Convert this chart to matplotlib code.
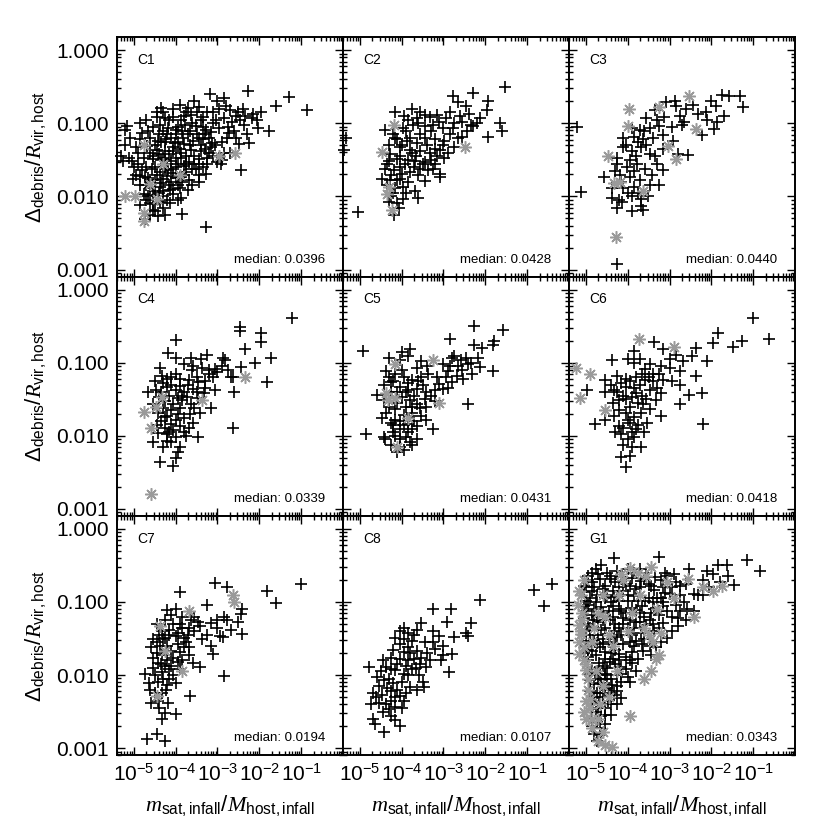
import numpy as np
import matplotlib
matplotlib.use("Agg")
import matplotlib.pyplot as plt
from matplotlib.ticker import FixedLocator, LogLocator, NullFormatter, FuncFormatter

plt.rcParams["font.family"] = "Liberation Sans"
plt.rcParams["mathtext.fontset"] = "custom"
plt.rcParams["mathtext.rm"] = "Liberation Sans"
plt.rcParams["mathtext.it"] = "Liberation Serif:italic"
plt.rcParams["mathtext.sf"] = "Liberation Sans"

# values, as (log10 m_sat/M_host, log10 Delta/R_vir)
c1_plus = [(-3.18,-0.60),(-2.27,-0.56),(-1.30,-0.64),(-1.61,-0.76),(-0.86,-0.82),(-4.35,-0.79),(-3.71,-0.79),(-3.43,-0.78),(-2.96,-0.80),(-2.80,-0.76),(-2.69,-0.82),(-2.51,-0.84),(-2.14,-0.87),
           (-4.45,-0.92),(-4.25,-0.93),(-4.06,-0.91),(-3.86,-0.96),(-3.63,-0.89),(-3.35,-0.91),(-3.04,-0.96),(-2.84,-0.93),(-2.65,-0.98),(-2.45,-0.96),(-2.18,-0.93),
           (-5.16,-1.04),(-5.20,-1.09),(-4.80,-1.13),(-4.37,-1.02),(-4.18,-1.07),(-3.98,-1.09),(-3.78,-1.02),(-3.51,-1.04),(-3.27,-1.09),(-2.96,-1.07),(-2.73,-1.13),(-2.37,-1.02),(-2.02,-1.07),(-1.76,-1.11),
           (-4.84,-1.22),(-4.61,-1.20),(-4.41,-1.24),(-4.22,-1.22),(-4.02,-1.27),(-3.82,-1.20),(-3.59,-1.24),(-3.35,-1.22),(-3.12,-1.27),(-2.76,-1.20),(-2.25,-1.27),
           (-4.94,-1.33),(-4.69,-1.31),(-4.45,-1.36),(-4.25,-1.38),(-4.06,-1.33),(-3.86,-1.40),(-3.63,-1.36),(-3.39,-1.38),(-3.16,-1.33),(-2.49,-1.28),
           (-5.25,-1.51),(-5.04,-1.51),(-5.12,-1.47),(-4.76,-1.47),(-4.53,-1.49),(-4.29,-1.47),(-4.10,-1.51),(-3.86,-1.47),(-3.67,-1.53),(-3.43,-1.49),(-3.24,-1.56),(-3.00,-1.53),(-2.92,-1.56),
           (-5.00,-1.60),(-4.80,-1.64),(-4.57,-1.62),(-4.37,-1.67),(-4.18,-1.64),(-3.98,-1.60),(-3.75,-1.67),(-3.51,-1.62),(-3.27,-1.69),(-2.44,-1.64),
           (-5.02,-1.76),(-4.73,-1.73),(-4.49,-1.78),(-4.29,-1.76),(-4.10,-1.80),(-3.90,-1.73),(-3.67,-1.78),(-3.43,-1.71),
           (-4.84,-1.84),(-4.61,-1.89),(-4.37,-1.87),(-4.14,-1.91),(-3.90,-1.89),(-3.71,-1.91),
           (-4.76,-1.96),(-4.53,-1.98),(-4.29,-2.00),(-4.06,-1.96),(-3.86,-2.02),
           (-4.84,-2.11),(-4.61,-2.09),(-4.37,-2.07),(-4.14,-2.09),(-4.53,-2.18),(-4.29,-2.16),(-4.49,-2.20),(-4.41,-2.27),(-3.84,-2.24),(-4.73,-2.31),(-3.27,-2.42),
           (-4.00,-1.15),(-3.70,-1.15),(-3.40,-1.30),(-4.20,-1.55),(-3.90,-1.35),(-3.55,-1.45),(-4.30,-1.10),(-3.20,-1.40),(-3.60,-1.00),(-4.50,-1.60),(-4.65,-1.75),(-4.00,-1.75),(-3.80,-1.58),(-4.15,-1.85),(-3.30,-1.15),
           (-4.70,-0.95),(-4.55,-1.05),(-4.40,-1.15),(-4.25,-1.25),(-4.10,-1.20),(-3.95,-1.25),(-3.85,-1.10),(-3.65,-1.30),(-3.50,-1.15),(-3.35,-1.05),(-3.20,-1.20),(-3.10,-1.00),(-2.90,-1.25),(-2.60,-1.10),(-2.55,-0.90),
           (-4.90,-1.40),(-4.60,-1.40),(-4.35,-1.50),(-4.15,-1.42),(-4.00,-1.48),(-3.75,-1.45),(-3.55,-1.55),(-3.35,-1.60),(-3.10,-1.45),(-2.85,-1.40),
           (-4.95,-1.70),(-4.70,-1.85),(-4.45,-1.70),(-4.25,-1.62),(-4.05,-1.68),(-3.85,-1.80),(-3.60,-1.85),(-3.45,-1.80),
           (-4.65,-2.00),(-4.40,-1.95),(-4.20,-2.05),(-3.95,-2.05),(-4.55,-2.10),(-4.25,-2.25),(-4.60,-2.25),
           (-4.45,-0.85),(-4.15,-0.95),(-3.80,-0.90),(-3.50,-0.85),(-3.25,-0.85),(-3.00,-0.70),(-2.85,-0.65),(-3.90,-0.75),(-3.55,-0.70),(-2.40,-0.80),(-2.30,-1.15),(-2.05,-0.95),(-1.95,-0.85),
           (-5.30,-1.45),(-5.20,-1.30),(-5.10,-1.20),
           (-4.85,-1.00),(-4.65,-1.10),(-4.50,-1.30),(-4.35,-1.25),(-4.20,-1.15),(-4.05,-1.38),(-3.95,-1.05),(-3.80,-1.28),(-3.65,-1.10),(-3.45,-1.20),(-3.30,-1.35),(-3.15,-1.12),(-3.05,-1.30),
           (-4.90,-1.55),(-4.70,-1.60),(-4.55,-1.45),(-4.40,-1.42),(-4.25,-1.50),(-4.10,-1.62),(-3.95,-1.55),(-3.75,-1.55),(-3.60,-1.62),(-3.45,-1.55),(-3.25,-1.48),
           (-4.85,-1.72),(-4.60,-1.78),(-4.35,-1.82),(-4.20,-1.72),(-3.95,-1.85),(-3.80,-1.70),(-4.50,-1.92),(-4.30,-1.92),(-4.05,-1.90),(-4.70,-2.05),
           (-4.30,-0.85),(-4.05,-0.80),(-3.75,-0.85),(-3.40,-0.95),(-3.10,-0.85),(-2.75,-1.05),(-2.55,-1.20),(-2.35,-0.90),(-2.90,-1.50),(-2.70,-1.40)]
c1_star = [(-4.76,-1.30),(-2.96,-1.44),(-2.57,-1.40),(-4.61,-1.83),(-5.20,-2.00),(-4.96,-1.99),(-4.45,-2.04),(-4.76,-2.22),(-4.75,-2.33),(-4.30,-1.55),(-3.90,-1.70)]

c2_plus = [(-1.53,-0.50),(-2.29,-0.59),(-2.78,-0.63),(-2.66,-0.71),(-2.47,-0.76),(-1.93,-0.70),(-1.96,-0.82),
           (-4.15,-0.84),(-3.76,-0.81),(-3.56,-0.84),(-3.84,-0.96),(-3.64,-0.93),(-3.33,-0.91),(-3.16,-0.89),(-2.94,-0.93),(-2.74,-1.00),(-2.55,-0.98),(-2.39,-0.87),(-2.35,-1.02),(-2.13,-0.93),
           (-4.40,-1.09),(-3.96,-1.07),(-3.72,-1.02),(-3.45,-1.04),(-3.25,-1.02),(-3.02,-1.07),(-2.78,-1.07),(-2.55,-1.18),(-2.29,-1.04),(-1.66,-1.00),(-1.60,-1.11),(-1.93,-1.18),
           (-5.33,-1.20),(-5.37,-1.36),(-5.05,-2.21),
           (-4.11,-1.22),(-3.88,-1.24),(-3.64,-1.27),(-3.45,-1.20),(-3.21,-1.22),(-2.98,-1.24),(-2.74,-1.33),
           (-4.27,-1.42),(-4.04,-1.33),(-3.80,-1.36),(-3.56,-1.38),(-3.33,-1.40),(-3.09,-1.36),
           (-4.31,-1.51),(-4.11,-1.49),(-3.92,-1.56),(-3.68,-1.51),(-3.45,-1.53),(-3.21,-1.56),(-2.98,-1.47),
           (-4.39,-1.62),(-4.19,-1.64),(-4.00,-1.69),(-3.80,-1.67),(-3.60,-1.71),(-3.37,-1.64),(-3.09,-1.69),(-3.09,-1.73),
           (-4.47,-1.76),(-4.27,-1.78),(-4.04,-1.76),(-3.84,-1.80),(-3.45,-1.79),
           (-4.15,-1.89),(-3.96,-1.87),(-3.68,-1.93),
           (-4.31,-2.07),(-4.11,-2.09),(-3.96,-2.04),(-4.07,-2.16),(-3.60,-2.02),(-4.19,-2.26),
           (-4.30,-1.30),(-4.20,-1.15),(-4.05,-1.45),(-3.90,-1.10),(-3.75,-1.40),(-3.55,-1.15),(-3.40,-1.30),(-3.30,-1.10),(-3.15,-1.45),(-3.00,-1.30),(-2.85,-1.15),(-2.65,-1.20),(-2.45,-1.10),
           (-4.35,-1.85),(-4.20,-1.95),(-4.05,-1.60),(-3.90,-1.95),(-3.70,-1.60),(-3.50,-1.55),(-3.25,-1.62),(-4.25,-2.00),(-3.95,-0.90),(-3.45,-0.88),(-2.60,-0.90),(-2.20,-1.00),
           (-4.35,-1.55),(-4.25,-1.70),(-4.10,-1.78),(-4.00,-1.30),(-3.85,-1.50),(-3.65,-1.45),(-3.55,-1.62),(-3.30,-1.50),(-3.20,-1.35),(-2.90,-1.40),(-4.15,-1.20),(-3.80,-1.20),(-3.60,-1.00),(-3.10,-0.98),(-2.85,-0.85)]
c2_star = [(-4.19,-1.02),(-4.47,-1.39),(-2.48,-1.32),(-4.31,-1.87),(-4.35,-1.96),(-4.23,-2.18)]

c3_plus = [(-1.75,-0.61),(-1.59,-0.63),(-1.31,-0.62),(-1.24,-0.78),(-2.00,-0.69),(-1.90,-0.76),(-2.88,-0.69),(-2.84,-0.76),(-3.08,-0.71),(-3.35,-0.82),
           (-3.55,-0.93),(-3.12,-0.91),(-2.61,-0.80),(-2.33,-0.87),(-2.14,-0.84),(-1.86,-0.98),(-1.94,-1.08),(-2.23,-1.16),(-2.69,-1.02),(-2.65,-0.98),
           (-5.21,-1.05),(-3.90,-1.07),(-3.71,-1.09),(-3.47,-1.07),(-3.24,-1.04),
           (-4.10,-1.20),(-3.86,-1.18),(-3.63,-1.22),(-3.39,-1.20),(-3.16,-1.16),(-2.92,-1.24),
           (-4.25,-1.47),(-4.10,-1.33),(-3.90,-1.38),(-3.67,-1.33),(-3.47,-1.42),(-2.80,-1.42),(-2.57,-1.43),
           (-4.25,-1.56),(-4.02,-1.60),(-3.78,-1.56),(-3.59,-1.62),(-3.31,-1.56),(-3.16,-1.64),
           (-4.57,-1.73),(-4.18,-1.71),(-3.94,-1.73),(-3.71,-1.78),(-3.43,-1.71),(-3.24,-1.84),
           (-4.37,-1.89),(-4.10,-1.89),(-3.86,-1.87),(-3.47,-1.84),
           (-5.12,-1.94),(-4.37,-2.02),(-4.14,-2.07),(-3.90,-2.00),(-3.67,-2.04),(-3.51,-2.00),
           (-4.25,-2.16),(-3.90,-2.20),(-3.67,-2.13),(-3.63,-2.18),(-4.25,-2.93),
           (-4.05,-1.30),(-3.95,-1.50),(-3.80,-1.45),(-3.75,-1.25),(-3.55,-1.30),(-3.85,-1.65),(-4.15,-1.80),(-4.00,-1.95),(-3.75,-1.95),(-4.20,-2.05),
           (-3.35,-1.45),(-3.15,-1.35),(-3.30,-0.95),(-2.95,-1.05),(-2.75,-0.90),(-2.45,-0.75),(-2.10,-0.95),(-1.70,-0.90),(-3.60,-1.10),(-4.30,-1.65)]
c3_star = [(-2.53,-0.62),(-3.96,-0.81),(-3.24,-0.78),(-2.37,-1.08),(-3.98,-1.04),(-4.47,-1.45),(-3.04,-1.31),(-2.84,-1.49),
           (-4.33,-1.82),(-4.18,-1.80),(-3.63,-1.93),(-4.28,-2.56)]

c4_plus = [(-1.21,-0.39),(-2.47,-0.51),(-2.45,-0.57),(-1.95,-0.60),(-1.95,-0.72),(-3.98,-0.69),(-2.35,-0.82),(-4.19,-0.87),
           (-3.98,-0.93),(-3.63,-0.93),(-3.24,-0.90),(-2.86,-0.94),(-2.82,-0.96),(-1.71,-0.94),(-2.11,-1.00),(-2.44,-1.06),
           (-4.37,-1.07),(-3.81,-1.02),(-3.58,-1.04),(-3.37,-1.07),(-3.05,-1.09),(-1.81,-1.27),(-2.68,-1.19),(-2.63,-1.20),
           (-4.32,-1.18),(-4.11,-1.20),(-3.89,-1.22),(-3.68,-1.24),(-3.47,-1.27),(-3.21,-1.16),(-3.00,-1.13),
           (-4.65,-1.40),(-4.47,-1.38),(-4.21,-1.33),(-4.00,-1.38),(-3.79,-1.40),(-3.58,-1.36),(-3.32,-1.42),(-3.05,-1.38),(-2.61,-1.40),
           (-4.53,-1.56),(-4.26,-1.53),(-4.05,-1.56),(-3.84,-1.51),(-3.63,-1.56),(-3.47,-1.49),(-3.16,-1.62),
           (-4.42,-1.69),(-4.21,-1.73),(-4.00,-1.78),(-3.79,-1.76),(-3.58,-1.82),(-3.42,-1.69),
           (-4.34,-1.80),(-4.11,-1.84),(-3.89,-1.87),(-3.68,-1.89),(-2.63,-1.90),
           (-4.42,-1.96),(-4.21,-1.98),(-4.00,-2.02),(-3.74,-2.00),(-3.47,-2.02),
           (-4.53,-2.09),(-4.21,-2.07),(-4.11,-2.09),(-3.89,-2.16),(-3.95,-2.22),(-4.37,-2.36),(-4.05,-2.42),
           (-4.30,-1.28),(-4.10,-1.30),(-3.90,-1.32),(-3.70,-1.30),(-3.50,-1.20),(-3.30,-1.25),(-3.10,-1.20),(-2.90,-1.05),(-4.40,-1.47),(-4.15,-1.45),
           (-3.95,-1.48),(-3.72,-1.47),(-3.55,-1.62),(-4.30,-1.62),(-4.10,-1.65),(-3.90,-1.62),(-4.25,-1.90),(-4.05,-1.92),(-3.80,-1.95),(-4.30,-2.15),
           (-4.00,-2.30),(-3.60,-1.10),(-3.40,-0.95),(-2.75,-1.10),(-4.50,-1.25),
           (-4.35,-1.40),(-4.20,-1.22),(-4.00,-1.15),(-3.85,-1.45),(-3.65,-1.70),(-3.50,-1.40),(-4.25,-1.75),(-4.15,-1.95),(-3.95,-1.70),(-4.45,-1.85),(-3.30,-1.35),(-3.20,-1.10)]
c4_star = [(-2.34,-1.19),(-4.32,-1.47),(-4.47,-1.60),(-4.76,-1.67),(-4.58,-1.89),(-3.37,-1.51),(-4.58,-2.80)]

c5_plus = [(-2.26,-0.50),(-1.58,-0.56),(-2.84,-0.67),(-2.26,-0.76),(-2.07,-0.80),(-1.79,-0.71),(-1.81,-0.76),(-4.93,-0.84),
           (-3.81,-0.82),(-3.84,-0.91),(-4.29,-0.93),(-4.05,-0.96),(-3.53,-0.98),(-3.63,-1.07),
           (-2.74,-0.91),(-2.79,-0.93),(-2.58,-0.96),(-2.47,-0.93),(-2.18,-0.93),(-2.42,-1.02),(-2.13,-1.06),(-1.81,-1.11),
           (-3.00,-1.02),(-2.89,-1.11),(-2.68,-1.18),(-2.53,-1.22),(-2.32,-1.16),(-2.95,-1.20),(-2.79,-1.27),
           (-4.37,-1.11),(-4.16,-1.16),(-3.95,-1.20),(-3.74,-1.24),(-3.53,-1.20),(-3.37,-1.16),(-3.16,-1.20),(-3.11,-1.29),
           (-4.42,-1.31),(-4.26,-1.27),(-4.05,-1.33),(-3.84,-1.38),(-3.63,-1.36),(-3.42,-1.40),(-3.21,-1.38),(-3.00,-1.36),
           (-4.58,-1.44),(-4.42,-1.51),(-4.00,-1.47),(-3.79,-1.51),(-3.63,-1.56),(-3.42,-1.60),(-3.21,-1.53),(-2.42,-1.56),
           (-4.37,-1.69),(-4.16,-1.64),(-3.95,-1.71),(-3.74,-1.69),(-3.53,-1.73),(-3.42,-1.78),
           (-4.47,-1.76),(-4.26,-1.82),(-4.05,-1.80),(-3.84,-1.84),(-3.63,-1.87),
           (-4.05,-1.91),(-3.74,-1.91),(-3.26,-1.91),(-4.84,-1.98),(-4.42,-2.02),(-4.16,-2.00),(-3.89,-2.02),(-3.63,-2.04),
           (-4.26,-2.13),(-4.05,-2.16),(-3.74,-2.13),
           (-4.20,-1.25),(-4.00,-1.10),(-3.85,-1.28),(-3.70,-1.45),(-3.50,-1.30),(-3.30,-1.45),(-4.25,-1.40),(-4.10,-1.55),(-3.90,-1.60),(-3.70,-1.80),
           (-3.55,-1.62),(-4.15,-1.78),(-3.95,-1.85),(-4.20,-1.95),(-3.80,-2.08),(-4.40,-2.05),(-4.10,-2.22),(-3.95,-2.20),(-2.65,-1.05),(-2.35,-1.00),
           (-2.90,-1.35),(-3.40,-1.05),(-4.00,-0.85),
           (-4.30,-1.20),(-4.10,-1.40),(-3.90,-1.40),(-3.75,-1.60),(-3.60,-1.25),(-3.45,-1.50),(-4.30,-1.60),(-4.20,-1.85),(-3.85,-1.95),(-4.05,-2.05),(-2.85,-1.05),(-2.55,-1.10)]
c5_star = [(-4.16,-1.02),(-3.26,-0.97),(-4.37,-1.42),(-4.32,-1.51),(-4.16,-1.49),(-3.84,-1.76),(-4.11,-2.16),(-3.10,-1.55)]

c6_plus = [(-1.00,-0.39),(-1.84,-0.59),(-0.63,-0.68),(-1.28,-0.70),(-1.49,-0.79),(-3.37,-0.72),(-2.37,-0.80),(-1.95,-0.73),
           (-3.84,-0.84),(-3.16,-0.82),(-2.84,-0.89),(-2.68,-0.98),(-2.47,-0.91),(-4.37,-0.97),(-3.84,-1.00),(-3.47,-1.02),(-3.21,-1.04),
           (-4.97,-1.38),(-2.11,-0.98),(-3.58,-1.09),(-3.26,-1.16),(-3.00,-1.07),(-2.74,-1.11),(-2.37,-1.18),
           (-4.53,-1.24),(-4.26,-1.18),(-4.05,-1.22),(-3.79,-1.20),(-3.58,-1.24),(-3.16,-1.24),
           (-4.53,-1.40),(-4.32,-1.38),(-4.05,-1.33),(-3.79,-1.42),(-3.47,-1.38),(-3.21,-1.42),(-2.74,-1.31),(-2.53,-1.44),(-2.23,-1.41),
           (-4.21,-1.51),(-3.89,-1.47),(-3.63,-1.56),(-3.32,-1.51),(-2.76,-1.56),
           (-4.53,-1.78),(-4.79,-1.84),(-4.32,-1.73),(-4.05,-1.69),(-3.68,-1.69),(-3.47,-1.64),(-3.21,-1.73),
           (-4.21,-1.87),(-3.95,-1.82),(-3.79,-1.91),(-3.53,-1.82),(-2.21,-1.84),
           (-4.16,-1.98),(-4.00,-2.04),(-3.84,-2.02),(-3.68,-2.16),(-4.16,-2.29),(-3.95,-2.27),(-4.05,-2.43),
           (-4.40,-1.30),(-4.15,-1.28),(-3.95,-1.25),(-3.70,-1.30),(-3.40,-1.25),(-4.35,-1.55),(-4.10,-1.45),(-3.95,-1.60),(-3.75,-1.55),(-3.55,-1.50),
           (-4.00,-1.78),(-3.85,-1.75),(-3.60,-1.95),(-4.30,-1.95),(-4.10,-2.12),(-3.90,-2.15),(-3.65,-1.15),(-3.40,-1.15),(-3.00,-0.95),(-2.95,-1.25),
           (-3.70,-0.95),(-4.00,-0.95),
           (-4.25,-1.40),(-4.05,-1.50),(-3.85,-1.35),(-3.65,-1.45),(-3.50,-1.20),(-4.10,-1.90),(-3.90,-1.95),(-4.20,-1.65),(-3.75,-1.85),(-3.30,-1.35)]
c6_star = [(-3.74,-0.67),(-2.89,-0.78),(-5.24,-1.07),(-4.89,-1.15),(-5.13,-1.48),(-4.53,-1.65)]

c7_plus = [(-3.07,-0.74),(-2.76,-0.79),(-1.00,-0.76),(-1.82,-0.85),(-1.60,-1.02),(-3.89,-0.87),
           (-4.21,-1.11),(-4.00,-1.09),(-3.26,-1.04),(-2.42,-1.09),(-2.44,-1.16),
           (-4.11,-1.18),(-3.84,-1.20),(-3.63,-1.24),(-3.47,-1.27),(-3.16,-1.29),(-2.84,-1.20),(-2.76,-1.24),(-2.51,-1.27),
           (-4.32,-1.40),(-4.16,-1.38),(-3.95,-1.42),(-3.68,-1.36),(-3.42,-1.33),(-3.00,-1.36),(-2.68,-1.38),(-2.42,-1.44),
           (-4.53,-1.51),(-4.26,-1.49),(-4.00,-1.47),(-3.79,-1.49),(-3.37,-1.51),(-2.95,-1.47),(-2.86,-1.48),
           (-4.58,-1.62),(-4.37,-1.60),(-4.11,-1.67),(-3.89,-1.69),(-3.68,-1.62),(-3.16,-1.60),
           (-4.53,-1.76),(-4.32,-1.73),(-4.05,-1.76),(-3.84,-1.80),(-3.68,-1.73),(-3.11,-1.71),
           (-4.42,-1.84),(-4.11,-1.87),(-3.89,-1.91),(-3.42,-1.89),(-3.58,-1.84),
           (-4.74,-1.98),(-4.32,-1.96),(-4.05,-2.00),(-2.84,-2.01),
           (-4.63,-2.11),(-4.42,-2.09),(-4.21,-2.13),(-4.00,-2.11),
           (-4.61,-2.20),(-4.32,-2.24),(-4.23,-2.20),(-3.66,-2.29),
           (-4.58,-2.38),(-4.42,-2.36),(-4.19,-2.38),(-4.26,-2.52),(-3.98,-2.53),(-4.32,-2.60),
           (-4.45,-2.80),(-4.68,-2.88),(-4.26,-2.90),
           (-4.25,-1.25),(-4.05,-1.30),(-3.85,-1.35),(-3.55,-1.40),(-3.25,-1.45),(-4.45,-1.55),(-4.20,-1.60),(-3.95,-1.58),(-3.75,-1.55),(-4.45,-1.70),
           (-4.20,-1.80),(-3.95,-1.82),(-4.55,-1.90),(-4.25,-1.88),(-4.15,-2.05),(-4.50,-2.25),(-4.40,-2.45),(-3.55,-1.20),(-3.00,-1.25),(-4.45,-1.30),
           (-4.40,-1.45),(-4.30,-1.50),(-4.15,-1.45),(-3.90,-1.30),(-3.70,-1.45),(-4.35,-1.85),(-4.15,-1.92),(-4.50,-2.00),(-4.30,-2.05),(-3.80,-1.62)]
c7_star = [(-2.63,-0.91),(-2.61,-1.00),(-3.68,-1.13),(-4.37,-1.33),(-4.26,-1.67),(-4.44,-2.29),(-3.85,-1.95)]

c8_plus = [(-0.42,-0.76),(-0.84,-0.83),(-0.61,-1.06),(-2.13,-0.97),(-3.26,-1.10),(-2.81,-1.10),(-2.92,-1.27),(-2.35,-1.29),
           (-3.53,-1.29),(-3.63,-1.38),(-4.05,-1.40),(-3.84,-1.42),(-3.24,-1.40),(-3.11,-1.47),(-2.76,-1.48),(-2.47,-1.42),(-2.42,-1.46),
           (-4.16,-1.49),(-3.95,-1.51),(-3.74,-1.53),(-4.05,-1.58),(-3.84,-1.62),(-3.63,-1.67),(-3.21,-1.64),(-3.00,-1.73),(-2.79,-1.71),(-3.05,-1.80),
           (-4.26,-1.76),(-4.05,-1.78),(-3.84,-1.80),(-3.53,-1.76),(-3.32,-1.80),(-3.42,-1.89),
           (-4.79,-1.89),(-4.37,-1.89),(-4.16,-1.93),(-3.95,-1.98),(-3.74,-1.91),(-3.58,-2.00),(-2.87,-1.96),
           (-4.58,-2.02),(-4.42,-2.07),(-4.21,-2.11),(-4.00,-2.09),(-3.79,-2.16),(-3.47,-2.16),
           (-4.68,-2.24),(-4.47,-2.27),(-4.26,-2.22),(-4.05,-2.29),(-3.63,-2.20),
           (-4.74,-2.40),(-4.53,-2.38),(-4.37,-2.40),(-4.16,-2.44),(-3.95,-2.36),
           (-4.26,-2.56),(-4.16,-2.62),(-4.05,-2.69),(-4.68,-2.60),(-4.63,-2.67),(-4.42,-2.78),
           (-3.95,-1.35),(-3.70,-1.45),(-3.45,-1.55),(-4.20,-1.65),(-3.95,-1.68),(-3.70,-1.78),(-4.45,-1.80),(-4.25,-1.92),(-3.85,-2.00),(-4.55,-2.15),
           (-4.35,-2.18),(-4.15,-2.30),(-3.90,-2.25),(-4.45,-2.50),(-4.30,-2.47),(-4.00,-2.45),(-3.25,-1.55),(-3.00,-1.60),(-4.50,-1.95),(-3.50,-2.10),
           (-4.10,-1.85),(-3.90,-1.88),(-3.65,-1.90),(-4.30,-2.05),(-4.10,-2.20),(-3.80,-1.70),(-3.55,-1.85),(-4.60,-2.30),(-4.25,-2.35),(-3.40,-1.70)]
c8_star = []

g1_plus = [(-4.32,-0.40),(-3.26,-0.38),(-1.16,-0.42),(-0.84,-0.58),(-1.63,-0.50),(-1.84,-0.49),(-2.11,-0.58),(-1.95,-0.62),(-2.53,-0.55),(-1.47,-0.77),
           (-4.63,-0.49),(-4.84,-0.60),(-4.42,-0.64),(-3.89,-0.67),(-3.68,-0.71),(-4.84,-0.73),(-4.53,-0.78),(-4.21,-0.80),(-3.79,-0.82),(-3.37,-0.84),
           (-2.84,-0.73),(-2.74,-0.78),(-2.32,-0.91),(-2.42,-0.89),(-2.74,-0.91),(-3.00,-0.89),
           (-5.05,-0.87),(-4.74,-0.91),(-4.32,-0.93),(-4.00,-0.98),(-3.58,-0.98),(-3.16,-1.00),(-2.84,-1.04),(-2.58,-1.09),(-2.42,-1.13),(-2.74,-1.13),
           (-4.95,-1.04),(-4.63,-1.07),(-4.21,-1.09),(-3.79,-1.11),(-3.37,-1.09),(-3.05,-1.13),
           (-5.05,-1.22),(-4.74,-1.20),(-4.42,-1.24),(-4.11,-1.22),(-3.79,-1.27),(-3.47,-1.24),(-3.16,-1.29),(-2.79,-1.22),(-2.79,-1.33),
           (-4.89,-1.36),(-4.63,-1.38),(-4.32,-1.40),(-4.00,-1.36),(-3.68,-1.42),(-3.37,-1.40),(-3.05,-1.49),
           (-5.00,-1.53),(-4.74,-1.56),(-4.42,-1.51),(-4.11,-1.58),(-3.79,-1.53),(-3.47,-1.60),(-3.32,-1.62),
           (-4.84,-1.67),(-4.53,-1.69),(-4.21,-1.71),(-3.89,-1.69),(-3.63,-1.67),
           (-4.95,-1.80),(-4.68,-1.84),(-4.42,-1.82),(-4.16,-1.89),(-3.89,-1.84),
           (-4.79,-1.96),(-4.53,-1.98),(-4.26,-2.00),(-4.00,-2.02),
           (-4.89,-2.07),(-4.63,-2.11),(-4.37,-2.13),(-4.16,-2.09),
           (-4.74,-2.24),(-4.53,-2.20),(-4.32,-2.27),(-4.68,-2.38),(-4.47,-2.36),
           (-4.84,-2.47),(-4.63,-2.56),(-4.74,-2.64),(-4.53,-2.67),(-4.63,-2.82),(-4.74,-2.90),
           (-4.90,-0.95),(-4.60,-1.25),(-4.40,-1.00),(-4.10,-0.85),(-3.90,-1.45),(-4.30,-1.65),(-4.70,-1.45),(-4.50,-1.90),(-4.80,-2.30),
           (-4.10,-1.30),(-3.60,-1.20),(-3.30,-0.95),(-4.95,-0.70),(-4.50,-0.60),(-4.00,-0.55),(-3.55,-0.60),(-4.65,-2.00),(-4.25,-2.40),(-5.05,-1.70),
           (-4.75,-0.55),(-4.25,-0.58),(-3.70,-0.55),(-3.10,-0.60),(-2.90,-0.62),
           (-5.00,-0.80),(-4.65,-0.68),(-4.30,-0.72),(-3.95,-0.78),(-3.50,-0.75),(-3.20,-0.70),(-2.95,-0.80),(-2.60,-0.75),(-2.20,-0.70),(-1.80,-0.72),(-1.60,-0.65),
           (-4.85,-0.85),(-4.55,-0.95),(-4.20,-0.98),(-3.85,-0.92),(-3.50,-0.95),(-3.10,-0.88),(-2.65,-1.00),(-2.20,-0.90),(-2.05,-0.80),
           (-5.00,-1.12),(-4.80,-1.10),(-4.45,-1.12),(-4.05,-1.15),(-3.65,-1.05),(-3.25,-1.18),(-2.95,-1.20),(-2.60,-1.25),
           (-4.95,-1.30),(-4.70,-1.28),(-4.30,-1.30),(-3.95,-1.25),(-3.55,-1.32),(-3.25,-1.35),(-2.95,-1.40),
           (-4.90,-1.45),(-4.60,-1.50),(-4.25,-1.48),(-3.95,-1.55),(-3.60,-1.50),(-3.20,-1.55),
           (-4.95,-1.65),(-4.65,-1.62),(-4.40,-1.70),(-4.05,-1.75),(-3.75,-1.78),(-3.45,-1.72),
           (-4.85,-1.90),(-4.60,-1.88),(-4.30,-1.85),(-4.05,-1.92),(-3.80,-1.95),
           (-4.80,-2.12),(-4.50,-2.05),(-4.25,-2.15),(-3.95,-2.10),
           (-4.85,-2.35),(-4.60,-2.30),(-4.40,-2.25),(-4.15,-2.32),
           (-4.75,-2.50),(-4.55,-2.45),(-4.40,-2.55),(-4.85,-2.70),(-4.65,-2.72),(-4.80,-2.80),
           (-4.95,-0.65),(-4.70,-0.62),(-4.40,-0.68),(-4.15,-0.66),(-3.85,-0.60),(-3.60,-0.68),(-3.35,-0.66),(-3.05,-0.64),
           (-5.05,-0.78),(-4.80,-0.80),(-4.60,-0.82),(-4.35,-0.85),(-4.05,-0.75),(-3.70,-0.80),(-3.45,-0.78),(-3.15,-0.80),
           (-5.00,-0.98),(-4.75,-1.00),(-4.50,-0.90),(-4.25,-0.92),(-4.00,-0.90),(-3.75,-0.98),(-3.40,-1.00),(-3.20,-0.95),
           (-5.05,-1.05),(-4.85,-1.18),(-4.60,-1.15),(-4.35,-1.05),(-4.15,-1.12),(-3.90,-1.08),(-3.70,-1.15),(-3.45,-1.15),(-3.15,-1.05),
           (-5.00,-1.40),(-4.80,-1.25),(-4.55,-1.35),(-4.35,-1.20),(-4.20,-1.35),(-3.85,-1.35),(-3.70,-1.28),(-3.40,-1.30),
           (-5.00,-1.60),(-4.80,-1.52),(-4.60,-1.58),(-4.45,-1.55),(-4.30,-1.58),(-4.15,-1.45),(-3.85,-1.60),(-3.65,-1.58),
           (-4.95,-1.75),(-4.75,-1.72),(-4.55,-1.78),(-4.35,-1.78),(-4.20,-1.80),(-3.95,-1.80),
           (-4.90,-1.98),(-4.70,-2.05),(-4.55,-2.00),(-4.40,-2.05),(-4.15,-1.98),
           (-4.90,-2.22),(-4.65,-2.25),(-4.45,-2.18),(-4.25,-2.22),
           (-4.85,-2.58),(-4.70,-2.45),(-4.55,-2.55),(-4.40,-2.40)]
g1_star = [(-3.95,-0.53),(-3.45,-0.52),(-4.16,-0.62),(-3.56,-0.65),(-2.21,-0.80),(-1.74,-0.78),(-2.42,-1.20),(-3.05,-0.73),
           (-5.11,-0.91),(-5.18,-1.04),(-5.16,-1.31),(-5.11,-1.44),(-3.21,-1.42),(-5.05,-1.62),(-5.16,-1.71),(-3.26,-1.73),(-3.32,-1.78),
           (-5.00,-1.93),(-3.45,-1.94),(-4.95,-2.20),(-4.89,-2.33),(-5.05,-2.51),(-3.95,-2.56),(-4.84,-2.73),(-4.58,-2.78),(-4.37,-2.99),
           (-5.10,-1.15),(-5.00,-1.85),(-4.90,-2.45),(-4.70,-2.60),(-5.15,-1.55),(-4.80,-1.35),(-4.60,-0.90),(-3.70,-0.90),
           (-5.05,-0.70),(-5.15,-0.85),(-5.10,-1.25),(-5.12,-1.40),(-5.05,-1.80),(-4.95,-2.05),(-5.00,-2.35),(-4.85,-2.60),(-4.70,-2.90),
           (-4.55,-2.95),(-4.25,-1.95),(-3.60,-2.05),(-3.40,-1.55),(-2.90,-0.95),(-4.10,-0.70),(-3.75,-0.60),(-2.55,-0.68),(-1.95,-0.85),
           (-4.45,-1.45),(-4.70,-1.15),(-4.60,-2.15),
           (-4.85,-1.55),(-4.55,-1.20),(-4.35,-1.60),(-4.20,-0.90),(-3.90,-1.15),(-3.60,-1.35),(-3.30,-1.10),(-4.75,-1.95),(-4.45,-2.30),
           (-4.65,-2.40),(-5.00,-2.60),(-3.50,-1.45),(-4.00,-1.40)]

names = ["C1", "C2", "C3", "C4", "C5", "C6", "C7", "C8", "G1"]
medians = ["0.0396", "0.0428", "0.0440", "0.0339", "0.0431", "0.0418", "0.0194", "0.0107", "0.0343"]
plus_sets = [c1_plus, c2_plus, c3_plus, c4_plus, c5_plus, c6_plus, c7_plus, c8_plus, g1_plus]
star_sets = [c1_star, c2_star, c3_star, c4_star, c5_star, c6_star, c7_star, c8_star, g1_star]

fig, axes = plt.subplots(3, 3, figsize=(8.3, 8.3), dpi=100, sharex=True, sharey=True)
fig.subplots_adjust(left=0.141, right=0.958, top=0.955, bottom=0.090, wspace=0, hspace=0)

for i, ax in enumerate(axes.flat):
    px, py = np.array(plus_sets[i]).T
    ax.plot(10**px, 10**py, ls="none", marker="+", ms=9, mew=1.2, color="black", clip_on=False)
    if star_sets[i]:
        sx, sy = np.array(star_sets[i]).T
        ax.plot(10**sx, 10**sy, ls="none", marker=(8, 2, 0), ms=9, mew=1.1, color="#9a9a9a", clip_on=False)

    ax.set_xscale("log")
    ax.set_yscale("log")
    ax.set_xlim(4e-6, 1.0)
    ax.set_ylim(8e-4, 1.5)
    ax.xaxis.set_major_locator(FixedLocator([1e-5, 1e-4, 1e-3, 1e-2, 1e-1]))
    ax.xaxis.set_minor_locator(LogLocator(base=10, subs=np.arange(2, 10), numticks=20))
    ax.yaxis.set_major_locator(FixedLocator([1e-3, 1e-2, 1e-1, 1.0]))
    ax.yaxis.set_minor_locator(LogLocator(base=10, subs=np.arange(2, 10), numticks=20))
    ax.xaxis.set_minor_formatter(NullFormatter())
    ax.yaxis.set_minor_formatter(NullFormatter())
    ax.xaxis.set_major_formatter(FuncFormatter(lambda v, p: r"$10^{%d}$" % round(np.log10(v))))
    ax.yaxis.set_major_formatter(FuncFormatter(lambda v, p: "%.3f" % v))
    ax.tick_params(which="both", direction="in", top=True, right=True, width=1.0, labelsize=15)
    ax.tick_params(which="major", length=6, pad=6)
    ax.tick_params(which="minor", length=3)
    for s in ax.spines.values():
        s.set_linewidth(1.4)

    ax.text(0.09, 0.905, names[i], transform=ax.transAxes, ha="left", va="center", fontsize=10)
    ax.text(0.92, 0.058, "median: " + medians[i], transform=ax.transAxes, ha="right", va="baseline", fontsize=9.5)

for ax in axes[:, 0]:
    ax.set_ylabel(r"$\Delta_{\rm debris}/R_{\rm vir,host}$", fontsize=16, labelpad=6)
for ax in axes[-1, :]:
    ax.set_xlabel(r"$m_{\rm sat,infall}/M_{\rm host,infall}$", fontsize=16, labelpad=6)

fig.savefig("out.png", dpi=100)
